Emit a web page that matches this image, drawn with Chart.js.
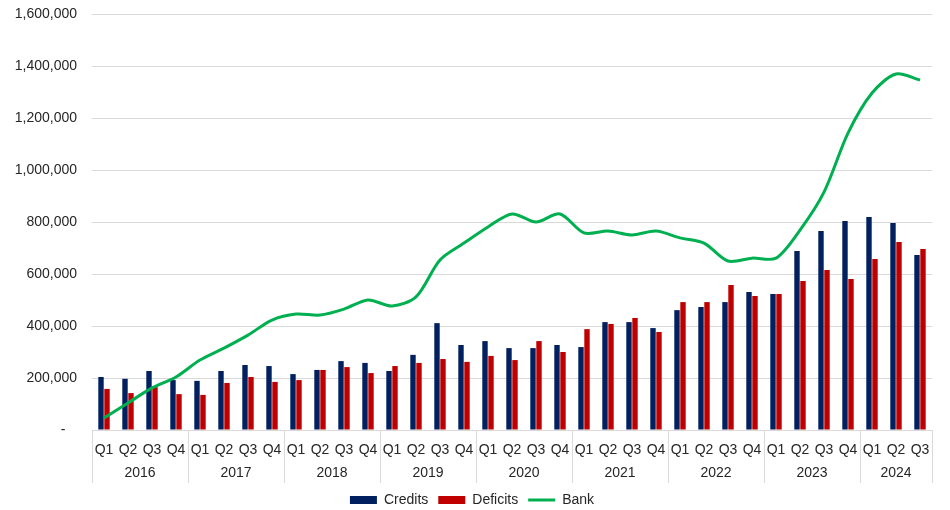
<!DOCTYPE html>
<html>
<head>
<meta charset="utf-8">
<script src="https://cdn.jsdelivr.net/npm/chart.js@4/dist/chart.umd.min.js"></script>
<style>
  html, body { margin: 0; padding: 0; background: #fff; }
  #wrap { width: 950px; height: 510px; }
</style>
</head>
<body>
<div id="wrap"><canvas id="chart"></canvas></div>
<script>
const quarters = [
  "Q1", "Q2", "Q3", "Q4", "Q1", "Q2", "Q3", "Q4", "Q1", "Q2", "Q3", "Q4",
  "Q1", "Q2", "Q3", "Q4", "Q1", "Q2", "Q3", "Q4", "Q1", "Q2", "Q3", "Q4",
  "Q1", "Q2", "Q3", "Q4", "Q1", "Q2", "Q3", "Q4", "Q1", "Q2", "Q3"
];
const years = ["2016", "2017", "2018", "2019", "2020", "2021", "2022", "2023", "2024"];

const credits = [
  204000, 197000, 227000, 192000,
  189000, 227000, 250000, 246000,
  215000, 231000, 265000, 258000,
  227000, 289000, 411000, 327000,
  342000, 315000, 315000, 327000,
  319000, 415000, 415000, 392000,
  461000, 473000, 492000, 531000,
  523000, 688000, 765000, 804000,
  819000, 796000, 673000
];
const deficits = [
  158000, 142000, 165000, 138000,
  135000, 181000, 204000, 185000,
  192000, 231000, 242000, 219000,
  246000, 258000, 273000, 262000,
  285000, 269000, 342000, 300000,
  388000, 408000, 431000, 377000,
  492000, 492000, 558000, 515000,
  523000, 573000, 615000, 581000,
  658000, 723000, 696000
];
const bank = [
  46000, 104000, 162000, 204000,
  269000, 315000, 365000, 423000,
  446000, 442000, 465000, 500000,
  477000, 512000, 654000, 719000,
  781000, 831000, 800000, 831000,
  758000, 765000, 750000, 765000,
  739000, 719000, 650000, 661000,
  661000, 769000, 915000, 1142000,
  1296000, 1369000, 1346000
];
const yTicks = [0, 200000, 400000, 600000, 800000, 1000000, 1200000, 1400000, 1600000];

const textColor = "#262626";
const gridColor = "#d9d9d9";
const font = { family: "Liberation Sans, Arial, sans-serif", size: 14 };

// year row + separators under the quarter labels
const yearAxis = {
  id: "yearAxis",
  afterInit(chart) {
    // keep the legend strip a fixed height so the plot ends where the reference does
    const lg = chart.legend;
    if (lg) {
      const fit = lg.fit.bind(lg);
      lg.fit = function () { fit(); this.height = 27; };
    }
  },
  afterDraw(chart) {
    const { ctx, chartArea } = chart;
    const x = chart.scales.x;
    const half = (x.getPixelForValue(1) - x.getPixelForValue(0)) / 2;
    const top = chartArea.bottom;
    const bottom = top + 53;
    ctx.save();
    ctx.strokeStyle = gridColor;
    ctx.lineWidth = 1;
    ctx.fillStyle = textColor;
    ctx.font = "14px " + font.family;
    ctx.textAlign = "center";
    ctx.textBaseline = "middle";
    years.forEach((yr, i) => {
      const first = i * 4;
      const last = Math.min(first + 3, quarters.length - 1);
      const left = Math.round(x.getPixelForValue(first) - half) + 0.5;
      ctx.beginPath();
      ctx.moveTo(left, top);
      ctx.lineTo(left, bottom);
      ctx.stroke();
      const mid = (x.getPixelForValue(first) + x.getPixelForValue(last)) / 2;
      ctx.fillText(yr, mid, top + 43);
    });
    const right = Math.round(x.getPixelForValue(quarters.length - 1) + half) + 0.5;
    ctx.beginPath();
    ctx.moveTo(right, top);
    ctx.lineTo(right, bottom);
    ctx.stroke();
    ctx.restore();
  }
};

Chart.defaults.font.family = font.family;
Chart.defaults.font.size = 14;
Chart.defaults.color = textColor;

const ctx = document.getElementById("chart").getContext("2d");
new Chart(ctx, {
  type: "bar",
  data: {
    labels: quarters,
    datasets: [
      {
        label: "Credits",
        data: credits,
        backgroundColor: "#002060",
        categoryPercentage: 0.5,
        barPercentage: 0.9,
        pointStyle: "rect",
        order: 1
      },
      {
        label: "Deficits",
        data: deficits,
        backgroundColor: "#c00000",
        categoryPercentage: 0.5,
        barPercentage: 0.9,
        pointStyle: "rect",
        order: 1
      },
      {
        type: "line",
        label: "Bank",
        data: bank,
        borderColor: "#00b050",
        backgroundColor: "#00b050",
        borderWidth: 3,
        pointRadius: 0,
        pointStyle: "line",
        tension: 0.3,
        order: 0
      }
    ]
  },
  options: {
    responsive: true,
    maintainAspectRatio: false,
    animation: false,
    layout: { padding: { left: 12, right: 18, top: 0, bottom: 0 } },
    plugins: {
      tooltip: { enabled: false },
      legend: {
        position: "bottom",
        labels: {
          usePointStyle: true,
          pointStyleWidth: 27,
          boxHeight: 8,
          padding: 10,
          color: textColor,
          sort: (a, b) => a.datasetIndex - b.datasetIndex
        }
      }
    },
    scales: {
      x: {
        grid: { display: false, drawTicks: false },
        border: { display: true, color: gridColor },
        ticks: { padding: 12, color: textColor, maxRotation: 0, autoSkip: false },
        afterFit: s => { s.height = 53; }
      },
      y: {
        min: 0,
        max: 1600000,
        afterBuildTicks: s => { s.ticks = yTicks.map(v => ({ value: v })); },
        grid: { color: gridColor, drawTicks: false },
        border: { display: false },
        ticks: {
          padding: 15,
          color: textColor,
          callback: v => v === 0 ? "-   " : v.toLocaleString("en-US")
        },
        afterFit: s => {
          s.width = 80;
          // v4 adds tick padding to the top margin; the plot starts at 14px here
          s.paddingTop = 14;
          s.paddingBottom = 0;
        }
      }
    }
  },
  plugins: [yearAxis]
});
</script>
</body>
</html>
